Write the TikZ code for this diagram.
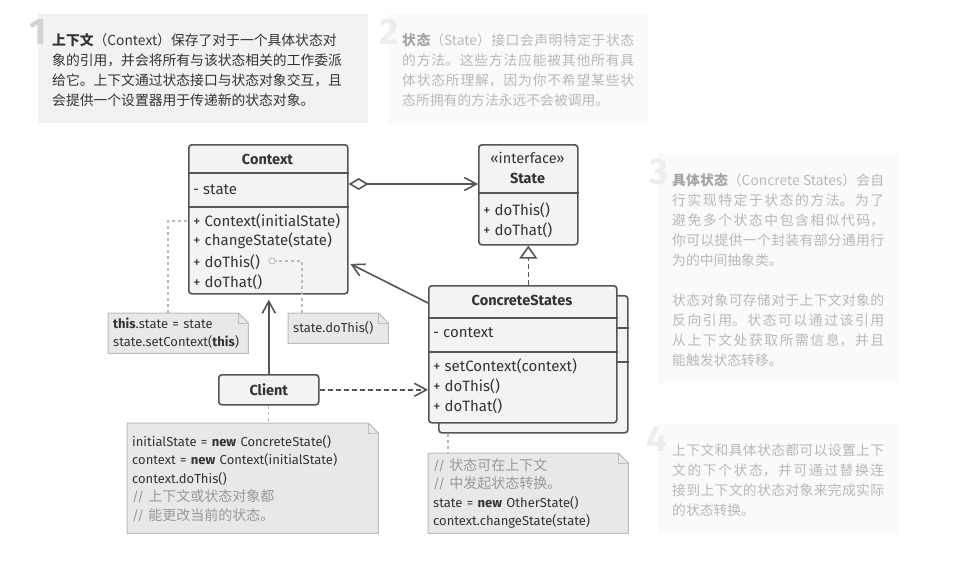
\documentclass[tikz,border=0pt]{standalone}
\usepackage{fontspec}
\setmainfont{Fira Sans}
\newfontfamily\cjk{Noto Sans CJK SC}
\usetikzlibrary{arrows.meta,calc,backgrounds}

\definecolor{ink}{HTML}{333333}
\definecolor{edge}{HTML}{555555}
\definecolor{boxfill}{HTML}{F3F3F3}
\definecolor{notefill}{HTML}{E8E8E8}
\definecolor{noteedge}{HTML}{BDBDBD}
\definecolor{dots}{HTML}{BBBBBB}
\definecolor{comment}{HTML}{999999}
\definecolor{pane}{HTML}{F2F2F2}
\definecolor{panefade}{HTML}{FAFAFA}
\definecolor{numdark}{HTML}{D2D2D2}
\definecolor{numlight}{HTML}{EDEDED}
\definecolor{fade}{HTML}{B8B8B8}
\definecolor{fadebold}{HTML}{A4A4A4}

% CJK paragraph setup: line breaks between ideographs get stretchable glue
\newcommand\panesetup{\cjk\fontsize{13.8}{20}\selectfont
  \XeTeXlinebreaklocale "zh"\XeTeXlinebreakskip=0pt plus 1pt\relax}
% a block of lines of the given width, aligned on its first baseline
\newcommand\lines[2]{\vtop{\hsize=#1pt\relax\parindent=0pt\parskip=0pt
  \leftskip=0pt\rightskip=0pt\tolerance=10000\relax #2}}
% a justified line of pane text
\newcommand\jline[1]{{\parfillskip=0pt\noindent#1\par}}
% folded-corner outline of a note node
\newcommand\drawnote[1]{%
  \draw[noteline] (#1.north west) -- ([xshift=-10pt]#1.north east)
    -- ([yshift=-10pt]#1.north east) -- (#1.south east) -- (#1.south west) -- cycle;
  \draw[noteline, fill=none] ([xshift=-10pt]#1.north east) |- ([yshift=-10pt]#1.north east);}
% Chinese text inside a note
\newcommand\zh[1]{{\cjk\fontsize{14}{18.5}\selectfont#1}}

\begin{document}
\begin{tikzpicture}[x=1pt,y=-1pt,
  panebox/.style={anchor=north west, inner sep=0, outer sep=0, draw=none},
  bignum/.style={anchor=base, inner sep=0, font=\fontsize{37}{37}\selectfont\bfseries},
  panetext/.style={anchor=base west, inner sep=0, font=\panesetup},
  cls/.style={anchor=north west, draw=edge, fill=boxfill, line width=1.6pt,
    rounded corners=3pt, inner sep=0},
  divider/.style={draw=edge, line width=1.6pt},
  clsname/.style={inner sep=0, text=ink, font=\fontsize{14.5}{16}\selectfont\bfseries},
  stereo/.style={inner sep=0, text=ink, font=\fontsize{14.5}{16}\selectfont},
  member/.style={anchor=west, inner sep=0, text=ink, font=\fontsize{15}{16}\selectfont},
  link/.style={draw=edge, line width=1.6pt},
  dashlink/.style={link, dash pattern=on 5pt off 3pt},
  barb/.style={-{Straight Barb[length=12pt,width=13pt]}},
  dotlink/.style={draw=dots, line width=1.2pt, dash pattern=on 3pt off 3pt},
  notebox/.style={anchor=north west, inner xsep=5pt, inner ysep=0, align=left,
    text=ink, font=\fontsize{13}{18.5}\selectfont},
  noteline/.style={draw=noteedge, fill=notefill, line width=1pt}
]
\useasboundingbox (0,0) rectangle (975,563);

% ---------- explanatory panes ----------
\node[panebox, fill=pane, minimum width=330, minimum height=109] (p1) at (38,14) {};
\node[panebox, fill=panefade, minimum width=260, minimum height=109] (p2) at (388,14) {};
\node[panebox, fill=panefade, minimum width=240, minimum height=230] (p3) at (658,153) {};
\node[panebox, fill=panefade, minimum width=240, minimum height=109] (p4) at (658,424) {};

\node[bignum, text=numdark] (num1) at (38,44) {1};
\node[bignum, text=numlight] (num2) at (389,44) {2};
\node[bignum, text=numlight] (num3) at (659,184) {3};
\node[bignum, text=numlight] (num4) at (657,451) {4};

\node[panetext, text=ink] (t1) at (52,45) {\lines{310}{%
\hbox{\textbf{上下文}（Context）保存了对于一个具体状态对}%
\hbox{象的引用，并会将所有与该状态相关的工作委派}%
\hbox{给它。上下文通过状态接口与状态对象交互，且}%
\hbox{会提供一个设置器用于传递新的状态对象。}}};

\node[panetext, text=fade] (t2) at (402,45) {\lines{232}{%
\jline{\textbf{\textcolor{fadebold}{状态}}（State）接口会声明特定于状态}%
\jline{的方法。这些方法应能被其他所有具}%
\jline{体状态所理解，因为你不希望某些状}%
\hbox{态所拥有的方法永远不会被调用。}}};

\node[panetext, text=fade] (t3) at (672,185) {\lines{212}{%
\jline{\textbf{\textcolor{fadebold}{具体状态}}（Concrete States）会自}%
\jline{行实现特定于状态的方法。为了}%
\jline{避免多个状态中包含相似代码，}%
\jline{你可以提供一个封装有部分通用行}%
\hbox{为的中间抽象类。}%
\hbox{}%
\jline{状态对象可存储对于上下文对象的}%
\jline{反向引用。状态可以通过该引用}%
\jline{从上下文处获取所需信息，并且}%
\hbox{能触发状态转移。}}};

\node[panetext, text=fade] (t4) at (672,455) {\lines{212}{%
\jline{上下文和具体状态都可以设置上下}%
\jline{文的下个状态，并可通过替换连}%
\jline{接到上下文的状态对象来完成实际}%
\hbox{的状态转换。}}};

% ---------- Context class ----------
\node[cls, minimum width=159, minimum height=149] (ctx) at (188,144) {};
\draw[divider] ($(ctx.north west)+(0,29)$) -- ($(ctx.north east)+(0,29)$);
\draw[divider] ($(ctx.north west)+(0,63)$) -- ($(ctx.north east)+(0,63)$);
\node[clsname] (ctxname) at (267.5,159) {Context};
\node[member] (ctxstate) at (193,190) {- state};
\node[member] (ctxm1) at (193,221) {+ Context(initialState)};
\node[member] (ctxm2) at (193,241) {+ changeState(state)};
\node[member] (ctxm3) at (193,262) {+ doThis()};
\node[member] (ctxm4) at (193,282) {+ doThat()};

% ---------- State interface ----------
\node[cls, minimum width=99, minimum height=100] (st) at (478,144) {};
\draw[divider] ($(st.north west)+(0,49)$) -- ($(st.north east)+(0,49)$);
\node[stereo] (ststereo) at (527.5,158) {«interface»};
\node[clsname] (stname) at (527.5,178) {State};
\node[member] (stm1) at (483,210) {+ doThis()};
\node[member] (stm2) at (483,230) {+ doThat()};

% ---------- ConcreteStates (stacked) ----------
\node[cls, minimum width=189, minimum height=137] (csback) at (438,295) {};
\draw[divider] ($(csback.north west)+(0,33)$) -- ($(csback.north east)+(0,33)$);
\draw[divider] ($(csback.north west)+(0,67)$) -- ($(csback.north east)+(0,67)$);
\node[cls, minimum width=188, minimum height=137] (cs) at (428,285) {};
\draw[divider] ($(cs.north west)+(0,33)$) -- ($(cs.north east)+(0,33)$);
\draw[divider] ($(cs.north west)+(0,67)$) -- ($(cs.north east)+(0,67)$);
\node[clsname] (csname) at (522,300) {ConcreteStates};
\node[member] (csctx) at (433,333) {- context};
\node[member] (csm1) at (433,366) {+ setContext(context)};
\node[member] (csm2) at (433,386) {+ doThis()};
\node[member] (csm3) at (433,406) {+ doThat()};

% ---------- Client ----------
\node[cls, minimum width=100, minimum height=30, text=ink,
  font=\fontsize{14.5}{16}\selectfont\bfseries] (cli) at (218,374) {Client};

% ---------- relations ----------
\draw[link, {Diamond[open,length=20pt,width=12pt]}-{Straight Barb[length=12pt,width=13pt]}]
  ($(ctx.north east)+(0,40)$) -- ($(st.north west)+(0,40)$);
\draw[link, barb, shorten >=2pt] ($(cs.north west)+(0,18)$) -- ($(ctx.north east)+(0,119)$);
\draw[dashlink, -{Triangle[open,length=13pt,width=18pt]}] (st.south |- cs.north) -- (st.south);
\draw[link, barb, shorten >=5pt] (cli.north) -- (cli.north |- ctx.south);
\draw[dashlink, barb] (cli.east) -- (cli.east -| cs.west);

% ---------- notes ----------
\node[notebox, text width=130, minimum height=40] (n1) at (108,313)
  {\textbf{this}.state = state\\state.setContext(\textbf{this})};
\node[notebox, text width=90, minimum height=30] (n2) at (288,313) {state.doThis()};
\node[notebox, text width=241, minimum height=110] (cnote) at (127,423)
  {initialState = \textbf{new} ConcreteState()\\
   context = \textbf{new} Context(initialState)\\
   context.doThis()\\
   {\color{comment}// \zh{上下文或状态对象都}}\\
   {\color{comment}// \zh{能更改当前的状态。}}};
\node[notebox, text width=190, minimum height=80] (csnote) at (428,453)
  {{\color{comment}// \zh{状态可在上下文}}\\
   {\color{comment}// \zh{中发起状态转换。}}\\
   state = \textbf{new} OtherState()\\
   context.changeState(state)};
\begin{scope}[on background layer]
  \drawnote{n1}
  \drawnote{n2}
  \drawnote{cnote}
  \drawnote{csnote}
\end{scope}

% ---------- note attachments ----------
\node[circle, draw=dots, fill=white, line width=1pt, minimum size=6pt, inner sep=0] (dot) at (272,261) {};
\draw[dotlink] ($(n1.north west)+(60,0)$) |- (ctx.west |- ctxm1);
\draw[dotlink] ($(n2.north west)+(14,0)$) |- (dot.east);
\draw[dotlink] (cli.south) -- (cli.south |- cnote.north);
\coordinate (csfoot) at ($(csback.south west)+(10,0)$);
\draw[dotlink] (csfoot) -- (csfoot |- csnote.north);
\end{tikzpicture}
\end{document}
